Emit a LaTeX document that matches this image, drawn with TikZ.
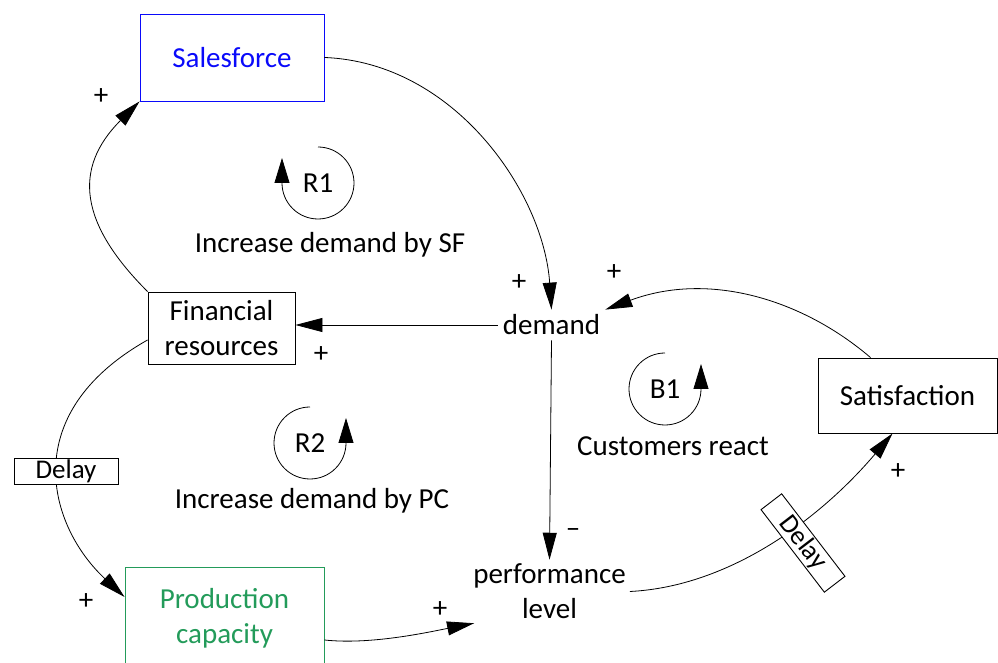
\documentclass[tikz,border=0pt]{standalone}
\usepackage{fontspec}
\setmainfont{Carlito}
\usetikzlibrary{arrows.meta}

\definecolor{sfblue}{RGB}{10,10,250}
\definecolor{pcgreen}{RGB}{35,155,90}

\begin{document}
\begin{tikzpicture}[x=1pt, y=1pt,
    font=\fontsize{29}{35}\selectfont,
    var/.style={draw, line width=0.9pt, align=center, inner sep=0pt},
    delaybox/.style={draw, fill=white, line width=0.9pt, font=\fontsize{27}{30}\selectfont,
        minimum width=104pt, minimum height=26pt, inner sep=0pt},
    link/.style={line width=0.8pt, -{Triangle[length=27pt, width=14pt]}},
    loopsym/.style={line width=0.8pt, -{Triangle[length=25pt, width=15pt]}}]

    % Page size
    \useasboundingbox (0,0) rectangle (998,663);

    % Variables
    \node[var, draw=sfblue, text=sfblue, minimum width=184pt, minimum height=87pt] (sf) at (232,605.5) {Salesforce};
    \node[var, minimum width=147pt, minimum height=72pt] (fin) at (221.5,335) {Financial\\resources};
    \node[var, draw=pcgreen, text=pcgreen, minimum width=199pt, minimum height=102pt] (pc) at (224.5,45) {Production\\capacity};
    \node[var, minimum width=179pt, minimum height=75pt] (sat) at (907.5,267.5) {Satisfaction};
    \node[inner sep=5pt] (dem) at (551.5,338) {demand};
    \node[align=center, inner sep=4pt] (perf) at (549.5,71.5) {performance\\level};

    % Causal links
    \draw[link] (sf.east) .. controls +(130,-5) and +(-8,117) .. (dem.north);
    \draw[link] (dem.west) -- (dem.west -| fin.east);
    \draw[link] (fin.north west) .. controls +(-67.5,67.5) and +(-67.5,-67.5) .. (sf.south west);
    \draw[link] ([yshift=-12pt]fin.west) .. controls +(-132,-74.5) and +(-75.8,70.6) .. ([yshift=21pt]pc.west);
    \draw[link] ([yshift=-22pt]pc.east) .. controls +(46,-5) and +(-46,-9) .. ([xshift=5pt]perf.south west);
    \draw[link] (dem.south) -- (perf.north);
    \draw[link] (perf.east) .. controls +(100,5) and +(-72,-85) .. ([xshift=-15pt]sat.south);
    \draw[link] ([xshift=-37pt]sat.north) .. controls +(-68.4,58.5) and +(103.4,38.5) .. (dem.north east);

    % Delays
    \node[delaybox] (dl1) at (66,192) {Delay};
    \node[delaybox, rotate=-52.5] (dl2) at (803,120) {Delay};

    % Polarities
    \foreach \nm/\x/\y/\s in {a/519/380/+, b/321/308/+, c/101/566/+, d/86/61/+,
                              e/440/53/+, f/573/130/–, g/898/191/+, h/614/390/+} {
        \node (sg\nm) at (\x,\y) {\s};
    }

    % Loop symbols
    \foreach \nm/\cx/\cy/\ea in {R1/318/480/-180, R2/310/220/360, B1/665/274/360} {
        \draw[loopsym] (\cx,\cy+36) arc[start angle=90, end angle=\ea, radius=36] -- ++(0,25);
        \node (lp\nm) at (\cx,\cy) {\nm};
    }

    % Loop names
    \node (nmR1) at (330,418) {Increase demand by SF};
    \node (nmR2) at (312,162) {Increase demand by PC};
    \node (nmB1) at (673,217) {Customers react};

\end{tikzpicture}
\end{document}
